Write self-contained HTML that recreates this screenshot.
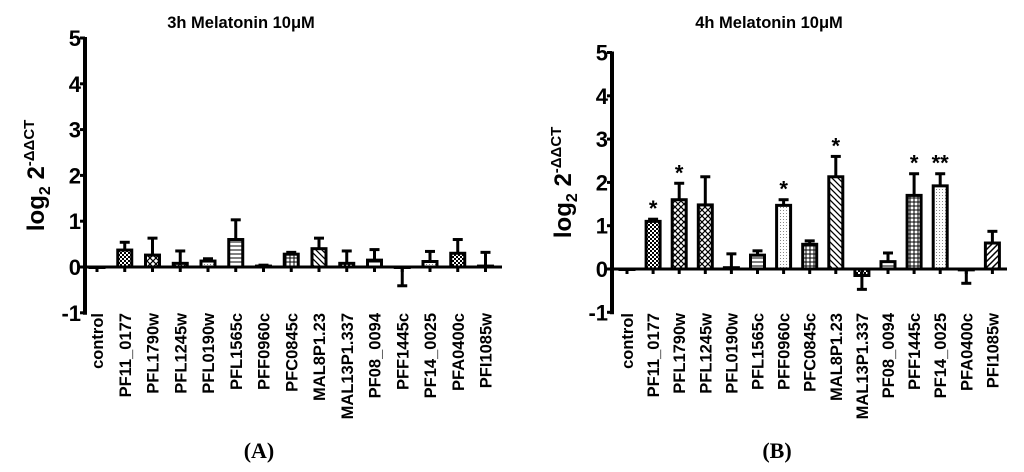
<!DOCTYPE html>
<html><head><meta charset="utf-8"><style>
html,body{margin:0;padding:0;background:#fff}
svg{display:block}
text{font-family:"Liberation Sans",Arial,sans-serif;font-weight:bold;fill:#000}
</style></head><body>
<svg id="chart" width="1024" height="472" viewBox="0 0 1024 472" xmlns="http://www.w3.org/2000/svg">
<defs>
<pattern id="p0" width="4" height="4" patternUnits="userSpaceOnUse"><rect width="4" height="4" fill="#fff"/><rect width="2" height="2" fill="#000"/><rect x="2" y="2" width="2" height="2" fill="#000"/></pattern>
<pattern id="p1" width="6" height="6" patternUnits="userSpaceOnUse"><rect width="6" height="6" fill="#fff"/><path d="M0 0L6 6M6 0L0 6" stroke="#000" stroke-width="1.2"/></pattern>
<pattern id="p2" width="4" height="4" patternUnits="userSpaceOnUse"><rect width="4" height="4" fill="#fff"/><path d="M0 2H4" stroke="#000" stroke-width="1"/></pattern>
<pattern id="p3" width="4" height="4" patternUnits="userSpaceOnUse"><rect width="4" height="4" fill="#fff"/><path d="M0 2H4M2 0V4" stroke="#000" stroke-width="1"/></pattern>
<pattern id="p4" width="6" height="6" patternUnits="userSpaceOnUse"><rect width="6" height="6" fill="#fff"/><path d="M0 0L6 6M-3 3L3 9M3 -3L9 3" stroke="#000" stroke-width="1.3"/></pattern>
<pattern id="p5" width="3" height="3" patternUnits="userSpaceOnUse"><rect width="3" height="3" fill="#fff"/><rect width="1" height="1" fill="#888"/></pattern>
<pattern id="p6" width="6" height="6" patternUnits="userSpaceOnUse"><rect width="6" height="6" fill="#fff"/><path d="M0 6L6 0M-3 3L3 -3M3 9L9 3" stroke="#000" stroke-width="1.5"/></pattern>
</defs>
<g id="panelA"></g>
<g id="panelB"></g>
<text x="259" y="458" text-anchor="middle" style="font-family:'Liberation Serif',serif;font-size:22px">(A)</text>
<text x="777" y="458" text-anchor="middle" style="font-family:'Liberation Serif',serif;font-size:22px">(B)</text>
</svg>
<script>
const categories = ["control","PF11_0177","PFL1790w","PFL1245w","PFL0190w","PFL1565c","PFF0960c","PFC0845c","MAL8P1.23","MAL13P1.337","PF08_0094","PFF1445c","PF14_0025","PFA0400c","PFI1085w"];
const valuesA = [0,0.37,0.26,0.08,0.13,0.6,0.02,0.28,0.4,0.08,0.15,-0.01,0.12,0.3,0.02];
const errorsA = [0,0.17,0.37,0.27,0.05,0.43,0.02,0.04,0.23,0.27,0.23,0.4,0.22,0.3,0.3];
const valuesB = [0,1.1,1.6,1.48,0.03,0.32,1.47,0.57,2.13,-0.15,0.17,1.7,1.92,-0.02,0.6];
const errorsB = [0,0.05,0.38,0.65,0.32,0.1,0.13,0.08,0.47,0.32,0.2,0.5,0.28,0.31,0.27];
const starsB = ["","*","*","","","","*","","*","","","*","**","",""];
const starsA = ["","","","","","","","","","","","","","",""];
const yTicks = [-1,0,1,2,3,4,5];
const fills = ["#000","url(#p0)","url(#p1)","url(#p1)","url(#p5)","url(#p2)","url(#p5)","url(#p3)","url(#p4)","url(#p0)","url(#p2)","url(#p3)","url(#p5)","url(#p0)","url(#p6)"];
const NS="http://www.w3.org/2000/svg";
function mk(parent,tag,attrs,txt){const e=document.createElementNS(NS,tag);for(const k in attrs)e.setAttribute(k,attrs[k]);if(txt!==undefined)e.textContent=txt;parent.appendChild(e);return e;}
function panel(g,cfg,vals,errs,stars,title){
  const y=v=>cfg.y0-v*cfg.unit;
  const x=i=>cfg.x0+i*cfg.step;
  const t=mk(g,"text",{x:cfg.titleX,y:28,"text-anchor":"middle","font-size":"16.5"},title);
  
  
  mk(g,"line",{x1:cfg.ax,y1:y(5)-1,x2:cfg.ax,y2:y(-1)+2,stroke:"#000","stroke-width":4});
  yTicks.forEach(v=>{
    mk(g,"line",{x1:cfg.ax-5,y1:y(v),x2:cfg.ax,y2:y(v),stroke:"#000","stroke-width":3});
    const tl=mk(g,"text",{x:cfg.ax-4,y:y(v)+8,"text-anchor":"end","font-size":"22"},String(v));
    
    
  });
  const yt=mk(g,"text",{transform:`translate(${cfg.ax-41},${y(2)}) rotate(-90)`,"text-anchor":"middle","font-size":"24"});
  
  
  yt.innerHTML='log<tspan font-size="16" dy="6">2</tspan><tspan dy="-6"> 2</tspan><tspan font-size="15" dy="-10">-ΔΔCT</tspan>';
  vals.forEach((v,i)=>{
    const cx=x(i),w=cfg.bw;
    const top=v+(v>=0?errs[i]:-errs[i]);
    if(errs[i]>0){
      mk(g,"line",{x1:cx,y1:y(v),x2:cx,y2:y(top),stroke:"#000","stroke-width":3});
      mk(g,"line",{x1:cx-5,y1:y(top),x2:cx+5,y2:y(top),stroke:"#000","stroke-width":3});
    }
    const r=mk(g,"rect",{x:cx-w/2,y:Math.min(y(v),y(0)),width:w,height:Math.max(Math.abs(y(v)-y(0)),0.5),fill:fills[i],stroke:"#000","stroke-width":3});
    
    
    mk(g,"line",{x1:cx,y1:y(0),x2:cx,y2:y(0)+5,stroke:"#000","stroke-width":3});
    if(stars[i]){
      const s=mk(g,"text",{x:cx,y:y(top)-3,"text-anchor":"middle","font-size":"22","font-weight":"normal"},stars[i]);
      
      
    }
    const lb=mk(g,"text",{transform:`translate(${cx+6},${cfg.labY}) rotate(-90)`,"text-anchor":"end","font-size":"16.5"},categories[i]);
    
    
  });
  mk(g,"line",{x1:cfg.ax,y1:y(0),x2:cfg.xend,y2:y(0),stroke:"#000","stroke-width":3});
}
panel(document.getElementById('panelA'),{x0:97,step:27.75,ax:85,y0:267,unit:45.8,bw:14,xend:502,labY:313,titleX:241},valuesA,errorsA,starsA,"3h Melatonin 10μM");
panel(document.getElementById('panelB'),{x0:627,step:26.1,ax:612,y0:269,unit:43.3,bw:14,xend:1007,labY:313,titleX:769},valuesB,errorsB,starsB,"4h Melatonin 10μM");
</script>
</body></html>
